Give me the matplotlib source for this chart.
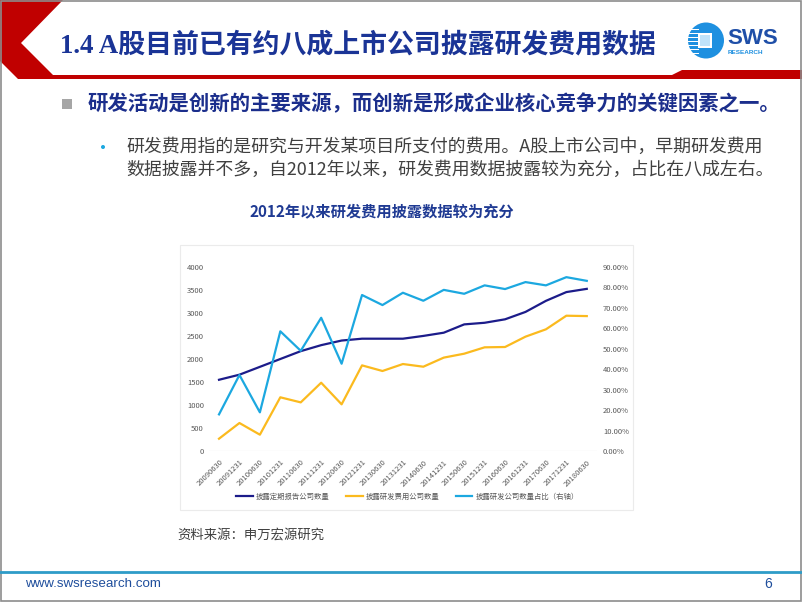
import matplotlib
matplotlib.use('Agg')
import matplotlib.pyplot as plt
from matplotlib.patches import Polygon, Rectangle, Circle

plt.rcParams['font.family'] = ['Noto Sans CJK SC', 'DejaVu Sans']

# ---------------- data ----------------
dates = ['20090630', '20091231', '20100630', '20101231', '20110630', '20111231',
         '20120630', '20121231', '20130630', '20131231', '20140630', '20141231',
         '20150630', '20151231', '20160630', '20161231', '20170630', '20171231',
         '20180630']
report_cnt = [1550, 1660, 1830, 2000, 2170, 2300, 2400, 2440, 2440, 2440,
              2500, 2570, 2750, 2785, 2860, 3020, 3260, 3450, 3520]
rd_cnt = [273, 613, 360, 1170, 1060, 1486, 1018, 1862, 1740, 1891,
          1833, 2030, 2115, 2253, 2260, 2484, 2643, 2938, 2930]
rd_ratio = [18.0, 37.2, 19.0, 58.5, 49.0, 65.1, 42.7, 76.2, 71.3, 77.3,
            73.4, 78.7, 76.8, 80.9, 79.1, 82.5, 80.9, 84.9, 83.1]
left_ticks = [0, 500, 1000, 1500, 2000, 2500, 3000, 3500, 4000]
right_ticks = [0, 10, 20, 30, 40, 50, 60, 70, 80, 90]
series_names = ['披露定期报告公司数量', '披露研发费用公司数量', '披露研发公司数量占比（右轴）']

title = '1.4 A股目前已有约八成上市公司披露研发费用数据'
bullet1 = '研发活动是创新的主要来源，而创新是形成企业核心竞争力的关键因素之一。'
bullet2_l1 = '研发费用指的是研究与开发某项目所支付的费用。A股上市公司中，早期研发费用'
bullet2_l2 = '数据披露并不多，自2012年以来，研发费用数据披露较为充分，占比在八成左右。'
chart_title = '2012年以来研发费用披露数据较为充分'
source = '资料来源：申万宏源研究'

W, H = 802, 602
fig = plt.figure(figsize=(W / 100, H / 100), dpi=100)
fig.patch.set_facecolor('white')

# ---------- background overlay in pixel coords ----------
bg = fig.add_axes([0, 0, 1, 1])
bg.set_xlim(0, W)
bg.set_ylim(H, 0)
bg.axis('off')

red = '#C00000'
bg.add_patch(Polygon([(0, 0), (63, 0), (21, 43), (53, 75), (672, 75), (682, 70),
                      (802, 70), (802, 79), (18, 79), (0, 61)],
                     closed=True, facecolor=red, edgecolor='none'))
# slide frame
bg.add_patch(Rectangle((0.8, 0.8), W - 1.6, H - 1.6, fill=False,
                       edgecolor='#8C8C8C', lw=1.2))

# title
bg.text(60, 46, title, fontsize=19.4, color='#1A3496', fontweight='bold',
        family=['Liberation Serif', 'Noto Sans CJK SC'], va='center', ha='left')

# logo
bg.add_patch(Circle((706, 40.5), 18, facecolor='#1E90E0', edgecolor='none'))
for yy in [29, 33, 37, 41, 45, 49, 53]:
    bg.add_patch(Rectangle((687, yy), 12, 1.4, facecolor='white', edgecolor='none'))
bg.add_patch(Rectangle((698, 33), 14, 15, facecolor='white', edgecolor='none'))
bg.add_patch(Rectangle((700, 35), 10, 11, facecolor='#BFE3FA', edgecolor='none'))
bg.text(727, 38, 'SWS', fontsize=16, fontweight='bold', color='#1F4FA8',
        family='Liberation Sans', va='center', ha='left')
bg.text(728, 52, 'RESEARCH', fontsize=4.6, fontweight='bold', color='#1F90E0',
        family='Liberation Sans', va='center', ha='left')

# bullets
bg.add_patch(Rectangle((62, 99), 10, 10, facecolor='#A6A6A6', edgecolor='none'))
bg.text(88, 104, bullet1, fontsize=14.7, fontweight='bold', color='#1B2E8C',
        va='center', ha='left')
bg.add_patch(Circle((103, 147), 2, facecolor='#1CA8E0', edgecolor='none'))
bg.text(126, 147, bullet2_l1, fontsize=12.9, color='#404040', va='center', ha='left')
bg.text(126, 170, bullet2_l2, fontsize=12.9, color='#404040', va='center', ha='left')

# chart title
bg.text(382, 211, chart_title, fontsize=11, fontweight='bold', color='#1F3A93',
        va='center', ha='center')

# chart box
bg.add_patch(Rectangle((180, 245), 453, 265, fill=False, edgecolor='#EBEBEB', lw=0.8))

# source
bg.text(177, 535, source, fontsize=9.6, color='#404040', va='center', ha='left')

# footer
bg.plot([0, W], [572, 572], color='#2E9CC8', lw=2)
bg.text(25, 584, 'www.swsresearch.com', fontsize=9.6, color='#1F4E9C',
        family='Liberation Sans', va='center', ha='left')
bg.text(768, 584, '6', fontsize=10, color='#1F4E9C',
        family='Liberation Sans', va='center', ha='center')

# ---------------- chart ----------------
x0, x1 = 208.8, 597.0
y_top, y_bot = 266.7, 451.3
ax = fig.add_axes([x0 / W, (H - y_bot) / H, (x1 - x0) / W, (y_bot - y_top) / H])
ax.patch.set_alpha(0)
ax2 = ax.twinx()

xs = list(range(len(dates)))
c_navy, c_gold, c_sky = '#1C1C8A', '#FBBA1E', '#1CA8E0'
l1, = ax.plot(xs, report_cnt, color=c_navy, lw=1.6, label=series_names[0])
l2, = ax.plot(xs, rd_cnt, color=c_gold, lw=1.6, label=series_names[1])
l3, = ax2.plot(xs, [v / 100 for v in rd_ratio], color=c_sky, lw=1.6,
               label=series_names[2])

ax.set_xlim(-0.5, len(dates) - 0.5)
ax.set_ylim(0, 4000)
ax2.set_ylim(0, 0.9)
ax.axhline(0, color='#D9D9D9', lw=0.8)

for a in (ax, ax2):
    for s in a.spines.values():
        s.set_visible(False)

ax.set_yticks(left_ticks)
ax.set_yticklabels([str(v) for v in left_ticks])
ax2.set_yticks([v / 100 for v in right_ticks])
ax2.set_yticklabels(['%.2f%%' % v for v in right_ticks])
ax.set_xticks(xs)
ax.set_xticklabels(dates, rotation=45, ha='right', rotation_mode='anchor')
ax.tick_params(axis='y', length=0, pad=3.5, labelsize=5.5, labelcolor='#595959')
ax2.tick_params(axis='y', length=0, pad=4.3, labelsize=5.5, labelcolor='#595959')
ax.tick_params(axis='x', length=0, pad=5, labelsize=5.5, labelcolor='#595959')

fig.legend(handles=[l1, l2, l3], loc='center', bbox_to_anchor=(407.5 / W, (H - 497) / H),
           ncol=3, frameon=False, fontsize=5.3, handlelength=2.2,
           handletextpad=0.4, columnspacing=2.3, labelcolor='#595959')

fig.savefig('out.png', dpi=100, facecolor='white')
